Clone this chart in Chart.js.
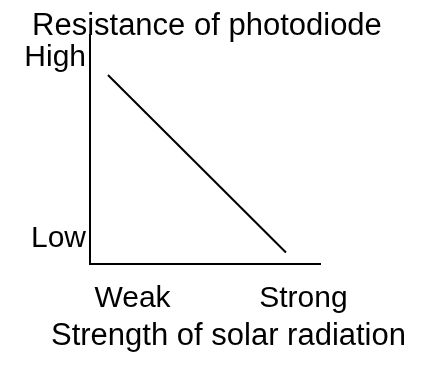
<!DOCTYPE html>
<html>
<head>
<meta charset="utf-8">
<script src="https://cdn.jsdelivr.net/npm/chart.js@4.4.1/dist/chart.umd.min.js"></script>
<style>
  html, body { margin: 0; padding: 0; background: #fff; }
  #wrap { width: 432px; height: 366px; }
</style>
</head>
<body>
<div id="wrap"><canvas id="myChart"></canvas></div>
<script>
// strength of radiation (x) vs resistance (y), 0..10 on both axes
let strength = [0.78, 8.52];
let resistance = [8.25, 0.5];

let xTickValues = [1.85, 9.28];
let xTickLabels = ["Weak", "Strong"];
let yTickValues = [1.1, 9];
let yTickLabels = ["Low", "High"];

let yTitle = "Resistance of photodiode";
let xTitle = "Strength of solar radiation";

let font = "'Liberation Sans', Arial, sans-serif";

// axis titles are not centred on the plot, so draw them here
let titlesPlugin = {
    id: "titles",
    afterDraw(chart) {
        let ctx = chart.ctx;
        let area = chart.chartArea;
        ctx.save();
        ctx.fillStyle = "#000";
        ctx.font = "31px " + font;
        ctx.textAlign = "left";
        ctx.textBaseline = "alphabetic";
        ctx.fillText(yTitle, area.left - 58, area.top);
        ctx.fillText(xTitle, area.left - 39, area.bottom + 81);
        ctx.restore();
    }
};

function labelFor(values, labels, v) {
    let i = values.indexOf(v);
    return i >= 0 ? labels[i] : "";
}

let chart = new Chart("myChart", {
    type: "scatter",
    data: {
        datasets: [{
            data: strength.map(function (x, i) { return { x: x, y: resistance[i] }; }),
            showLine: true,
            borderColor: "#000",
            borderWidth: 2,
            pointRadius: 0
        }]
    },
    options: {
        responsive: true,
        maintainAspectRatio: false,
        animation: false,
        layout: { padding: { top: 35, right: 112, left: 0, bottom: 0 } },
        plugins: {
            legend: { display: false },
            tooltip: { enabled: false }
        },
        scales: {
            x: {
                type: "linear",
                min: 0,
                max: 10,
                grid: { display: false, drawTicks: false },
                border: { display: true, color: "#000", width: 2 },
                afterFit: function (scale) { scale.height = 102; },
                afterBuildTicks: function (scale) {
                    scale.ticks = xTickValues.map(function (v) { return { value: v }; });
                },
                ticks: {
                    color: "#000",
                    font: { family: font, size: 30 },
                    padding: 17,
                    maxRotation: 0,
                    autoSkip: false,
                    callback: function (v) { return labelFor(xTickValues, xTickLabels, v); }
                }
            },
            y: {
                type: "linear",
                min: 0,
                max: 10,
                grid: { display: false, drawTicks: false },
                border: { display: true, color: "#000", width: 2 },
                afterFit: function (scale) { scale.width = 90; },
                afterBuildTicks: function (scale) {
                    scale.ticks = yTickValues.map(function (v) { return { value: v }; });
                },
                ticks: {
                    color: "#000",
                    font: { family: font, size: 30 },
                    padding: 4,
                    autoSkip: false,
                    callback: function (v) { return labelFor(yTickValues, yTickLabels, v); }
                }
            }
        }
    },
    plugins: [titlesPlugin]
});
</script>
</body>
</html>
